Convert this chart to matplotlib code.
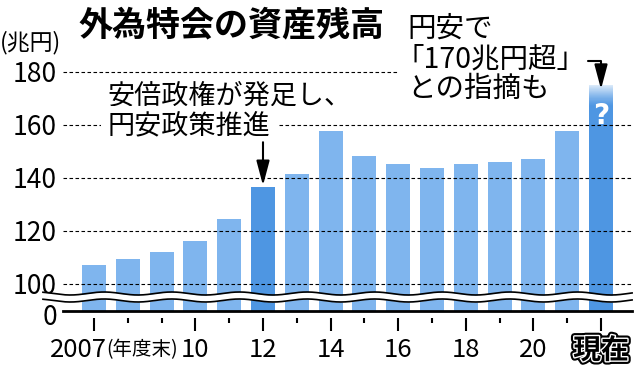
import numpy as np
import matplotlib
matplotlib.use("Agg")
import matplotlib.pyplot as plt
import matplotlib.patheffects as pe

plt.rcParams['font.family'] = ['Noto Sans CJK JP', 'DejaVu Sans']

# ---- data ----
categories = ['2007', '2008', '2009', '2010', '2011', '2012', '2013', '2014',
              '2015', '2016', '2017', '2018', '2019', '2020', '2021', '現在']
values = [107.2, 109.4, 112.2, 116.2, 124.6, 136.5, 141.5, 157.7,
          148.4, 145.2, 143.9, 145.4, 146.2, 147.3, 157.9, 175.0]
highlight = ['2012', '現在']
major_ticks = ['2007', '2010', '2012', '2014', '2016', '2018', '2020', '現在']
major_labels = ['', '10', '12', '14', '16', '18', '20', '現在']
y_ticks = [100, 120, 140, 160, 180]
y_labels = ['100', '120', '140', '160', '180']

LIGHT = '#7FB5EE'
DARK = '#4E96E2'

# broken-axis scale: 0..100 compressed, linear above 100
K = 0.10189
def fwd(v):
    v = np.asarray(v, dtype=float)
    return np.where(v >= 100, v, 100 - (100 - v) * K)
def inv(v):
    v = np.asarray(v, dtype=float)
    return np.where(v >= 100, v, 100 - (100 - v) / K)

fig = plt.figure(figsize=(6.4, 3.71), dpi=100)
ax = fig.add_axes([63/640, 60/371, 569/640, (311-32.25)/371])
ax.set_yscale('function', functions=(fwd, inv))

x = np.arange(len(categories))
colors = [DARK if c in highlight else LIGHT for c in categories]
bars = ax.bar(x, values, width=0.71, color=colors, linewidth=0, zorder=2)

# fade at top of last bar
last = len(values) - 1
top = values[last]
fade = 8.0
n = 40
c = np.array(matplotlib.colors.to_rgb(DARK))
for k in range(n):
    t = (k + 0.5) / n
    w = 0.8 * t ** 1.3
    col = c * (1 - w) + np.ones(3) * w
    ax.bar(x[last], fade / n, bottom=top - fade + k * fade / n, width=0.71,
           color=col, linewidth=0, antialiased=False, zorder=2.1)

# gridlines
for yv in y_ticks[:-1]:
    ax.axhline(yv, color='black', lw=0.8, ls=(0, (3.2, 2.2)), zorder=3)
ax.axhline(180, 0, 0.589, color='black', lw=0.8, ls=(0, (3.2, 2.2)), zorder=3)

# wavy break
xs = np.linspace(-1.51, 15.92, 800)
px = 100 / 27.0
center = 14 * px
dy = 1.5 * px * np.cos(np.pi * (xs - 0.3))
ax.fill_between(xs, center - 3.5 * px + dy, center + 3.5 * px + dy,
                color='white', lw=0, zorder=4, clip_on=False)
ax.plot(xs, center + 3.5 * px + dy, color='black', lw=1.2, zorder=5, clip_on=False)
ax.plot(xs, center - 3.5 * px + dy, color='black', lw=1.2, zorder=5, clip_on=False)

# baseline
ax.axhline(0, color='black', lw=2.0, zorder=5, clip_on=False)

ax.set_xlim(-0.917, 15.917)
ax.set_ylim(0, 195)

for s in ax.spines.values():
    s.set_visible(False)
ax.spines['bottom'].set_position(('outward', 5))

maj_idx = [categories.index(m) for m in major_ticks]
min_idx = [i for i in x if i not in maj_idx]
ax.set_xticks(maj_idx, major_labels)
ax.set_xticks(min_idx, minor=True)
ax.tick_params(axis='x', which='major', length=9.5, width=1.5, pad=4, labelsize=18.5)
ax.tick_params(axis='x', which='minor', length=3.6, width=1.5)
lbl = ax.get_xticklabels()[-1]
lbl.set_fontweight('bold')
lbl.set_fontsize(20)
lbl.set_path_effects([pe.Stroke(linewidth=5, foreground='black'),
                      pe.Stroke(linewidth=2, foreground='white'),
                      pe.Normal()])

ax.set_yticks(y_ticks, y_labels)
ax.tick_params(axis='y', length=0, pad=4.3, labelsize=19)
ax.annotate('0', xy=(0, 0), xycoords=ax.get_yaxis_transform(),
            xytext=(-4.3, -5), textcoords='offset points',
            ha='right', va='center', fontsize=19)

xt = ax.get_xaxis_transform()
ax.text(-0.46, -0.14, '2007', transform=xt, ha='center', va='center', fontsize=18.5)
ax.text(1.43, -0.14, '(年度末)', transform=xt, ha='center', va='center', fontsize=14)

# titles
fig.text(78/640, 1 - 25/371, '外為特会の資産残高', fontsize=24.5, fontweight='bold',
         ha='left', va='center')
fig.text(0/640, 1 - 42.5/371, '(兆円)', fontsize=16.5, ha='left', va='center')

# annotation 1
ax.text(0.41, 170.9, '安倍政権が発足し、', fontsize=19.5, ha='left', va='center', zorder=6)
ax.text(0.41, 159.6, '円安政策推進', fontsize=19.5, ha='left', va='center', zorder=6,
        bbox=dict(fc='white', ec='none', pad=5))
ax.annotate('', xy=(5, 137.2), xytext=(5, 153.5),
            arrowprops=dict(arrowstyle='-|>,head_length=0.75,head_width=0.2',
                            mutation_scale=20, color='black', lw=1.5,
                            shrinkA=0, shrinkB=0), zorder=6)

# annotation 2
ax.text(9.27, 196.2, '円安で', fontsize=20.5, ha='left', va='center', zorder=6)
ax.text(8.93, 184.7, '「170兆円超」', fontsize=20.5, ha='left', va='center', zorder=6)
ax.text(9.27, 173.8, 'との指摘も', fontsize=20.5, ha='left', va='center', zorder=6)
ax.annotate('', xy=(15, 173.5), xytext=(14.62, 184.2),
            arrowprops=dict(arrowstyle='-|>,head_length=0.75,head_width=0.2',
                            mutation_scale=20, color='black', lw=1.5,
                            connectionstyle='angle,angleA=0,angleB=90,rad=0',
                            shrinkA=0, shrinkB=0), zorder=6)
ax.text(15, 163.4, '?', color='white', fontweight='bold', fontsize=20,
        family='DejaVu Sans', ha='center', va='center', zorder=6)

fig.savefig('out.png', dpi=100)
